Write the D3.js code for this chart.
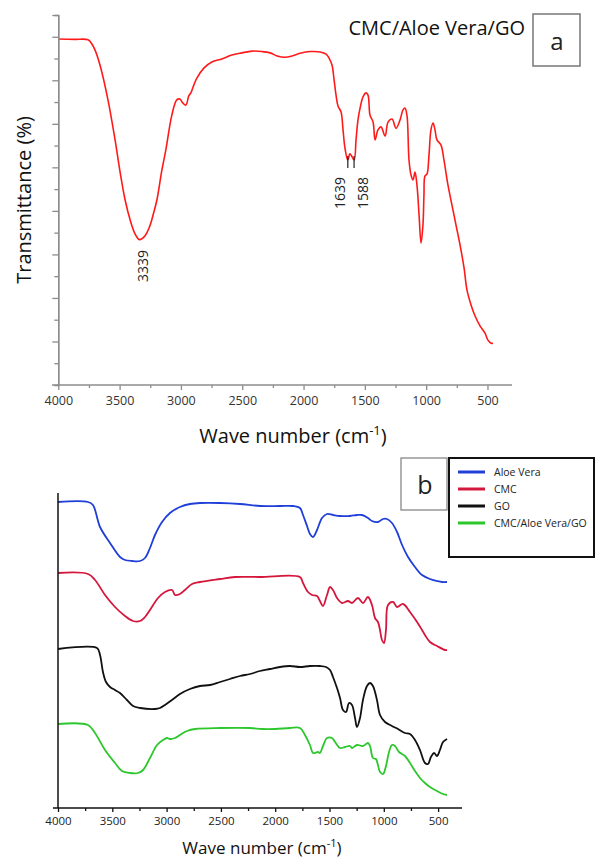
<!DOCTYPE html>
<html>
<head>
<meta charset="utf-8">
<script src="https://cdn.jsdelivr.net/npm/d3@7"></script>
<style>
  body { margin: 0; background: #fff; }
  svg { font-family: "Open Sans", sans-serif; }
</style>
</head>
<body>
<svg id="canvas" width="595" height="860"></svg>
<script>
// panel a: CMC/Aloe Vera/GO, [wavenumber, transmittance]
let compositeA = [
  [4000,79.5],[3864,79.4],[3758,79.3],[3725,78.3],[3701,77.0],[3660,73.5],[3595,65.5],[3537,56.3],
  [3496,48.9],[3455,42.5],[3414,37.9],[3374,34.7],[3339,33.4],[3295,34.2],[3254,36.5],[3221,39.7],
  [3196,42.5],[3155,49.4],[3123,54.0],[3074,62.0],[3034,65.5],[3009,65.7],[2985,64.8],[2960,64.3],
  [2936,66.4],[2919,67.1],[2895,68.9],[2870,70.5],[2813,72.8],[2748,74.2],[2666,74.9],[2585,75.8],
  [2503,76.3],[2420,76.7],[2339,76.6],[2273,76.3],[2216,75.6],[2151,75.3],[2094,75.6],[2028,76.2],
  [1946,76.6],[1864,76.5],[1816,76.0],[1792,75.1],[1768,73.5],[1751,70.1],[1735,66.6],[1719,64.1],
  [1694,62.7],[1678,58.6],[1662,54.4],[1639,51.7],[1621,53.1],[1588,51.7],[1572,56.3],[1556,60.9],
  [1539,63.6],[1515,66.2],[1490,67.1],[1474,66.6],[1458,62.0],[1433,60.4],[1417,56.3],[1393,58.6],
  [1368,59.3],[1335,57.2],[1311,60.4],[1278,61.1],[1246,59.0],[1213,60.9],[1189,63.2],[1172,63.6],
  [1156,61.8],[1140,51.7],[1123,48.2],[1107,47.1],[1091,48.9],[1075,45.9],[1058,39.1],[1042,32.6],
  [1026,36.8],[1018,43.6],[1010,48.0],[993,48.5],[977,52.8],[961,58.6],[944,60.2],[928,58.6],
  [912,56.3],[879,55.1],[855,51.7],[822,45.9],[790,41.4],[757,36.8],[724,32.2],[691,26.9],
  [667,21.8],[634,18.4],[602,15.9],[561,13.6],[520,11.9],[496,10.3],[471,9.6],[455,9.6]
];
let peakLabels = [3339, 1639, 1588];

// panel b: stacked spectra, [wavenumber, offset transmittance]
let aloeVera = [
  [4000,306],[3724,306],[3678,303],[3613,281],[3521,265],[3429,251],[3383,248],[3319,247],
  [3245,247],[3199,250],[3153,260],[3107,273],[3042,286],[2969,295],[2877,301],[2785,304],
  [2692,305],[2508,305],[2324,304],[2140,302],[1956,302],[1836,302],[1772,300],[1744,293],
  [1707,282],[1680,274],[1652,271],[1615,278],[1569,290],[1523,294],[1468,293],[1403,292],
  [1311,292],[1247,293],[1201,293],[1146,290],[1109,287],[1054,286],[1007,289],[971,289],
  [925,285],[878,276],[832,263],[777,251],[713,241],[648,233],[575,229],[510,227],[464,226],[418,226]
];
let cmc = [
  [4000,235],[3724,234],[3659,228],[3567,213],[3475,201],[3383,192],[3309,187],[3245,187],
  [3199,191],[3153,198],[3079,210],[3015,216],[2950,218],[2923,213],[2877,214],[2831,218],
  [2766,224],[2692,226],[2508,229],[2370,231],[2140,231],[1772,231],[1744,225],[1698,216],
  [1661,213],[1615,212],[1588,207],[1560,202],[1523,213],[1495,221],[1468,218],[1431,210],
  [1385,205],[1330,207],[1293,205],[1238,210],[1192,205],[1146,211],[1109,203],[1081,190],
  [1054,186],[1035,178],[1017,168],[998,165],[980,178],[961,203],[915,206],[878,201],
  [823,204],[759,196],[694,186],[648,178],[621,173],[575,166],[510,162],[436,158],[418,158]
];
let go = [
  [4000,159],[3641,160],[3613,153],[3586,136],[3558,126],[3521,121],[3475,118],[3429,115],
  [3365,108],[3309,102],[3245,100],[3107,99],[3061,100],[3015,103],[2950,108],[2877,114],
  [2785,119],[2692,122],[2600,123],[2508,126],[2416,129],[2324,132],[2232,134],[2140,137],
  [2048,139],[1956,141],[1864,142],[1772,141],[1680,142],[1588,142],[1532,141],[1495,138],
  [1468,131],[1431,120],[1403,110],[1376,98],[1348,96],[1320,105],[1293,103],[1265,90],
  [1247,81],[1219,90],[1192,108],[1155,122],[1127,125],[1100,122],[1063,108],[1035,93],
  [989,86],[925,82],[869,79],[805,75],[759,74],[713,68],[667,58],[621,45],[593,44],
  [566,51],[538,55],[510,52],[483,58],[455,66],[418,69]
];
let composite = [
  [4000,84],[3724,83],[3659,75],[3567,58],[3475,45],[3411,37],[3337,35],[3263,35],
  [3217,38],[3153,50],[3088,63],[3033,68],[2996,70],[2969,69],[2923,70],[2877,73],
  [2812,77],[2738,79],[2508,80],[2232,80],[2122,79],[2002,79],[1864,80],[1772,80],
  [1726,73],[1680,63],[1652,55],[1606,56],[1588,55],[1560,62],[1523,70],[1477,70],
  [1449,66],[1403,60],[1357,61],[1311,62],[1293,60],[1247,63],[1192,62],[1146,65],
  [1127,62],[1100,50],[1072,49],[1054,43],[1035,36],[1007,34],[980,42],[952,56],
  [925,63],[897,62],[860,56],[805,52],[759,45],[713,37],[667,30],[621,25],[575,21],
  [510,17],[455,14],[418,13]
];
let seriesNames = ['Aloe Vera', 'CMC', 'GO', 'CMC/Aloe Vera/GO'];
let seriesColors = ['#1f3fd8', '#d5173d', '#111111', '#2cc72c'];
let xTicks = [4000, 3500, 3000, 2500, 2000, 1500, 1000, 500];

let canvas = d3.select('#canvas');

// ---------- panel a ----------
let xa = d3.scaleLinear().domain([4000, 300]).range([58.3, 512]);
let ya = d3.scaleLinear().domain([0, 85]).range([385, 15]);
let ga = canvas.append('g');

let lineA = d3.line().x(d => xa(d[0])).y(d => ya(d[1])).curve(d3.curveCatmullRom.alpha(0.5));
ga.append('path').datum(compositeA)
  .attr('d', lineA).attr('fill', 'none').attr('stroke', '#ff1a1a').attr('stroke-width', 1.6);

// y axis (no labels), major + minor ticks
let yMinorA = ga.append('g').attr('transform', 'translate(58.3,0)')
  .call(d3.axisLeft(ya).tickValues(d3.range(5, 85, 10)).tickSize(4).tickFormat(''));
let yMajorA = ga.append('g').attr('transform', 'translate(58.3,0)')
  .call(d3.axisLeft(ya).tickValues(d3.range(10, 86, 10).concat([85])).tickSize(6).tickSizeOuter(0).tickFormat(''));
[yMinorA, yMajorA].forEach(g => {
  g.selectAll('line').attr('stroke', '#8c8c8c').attr('stroke-width', 1.3);
  g.select('.domain').attr('stroke', '#8c8c8c').attr('stroke-width', 1.3);
});

let xMinorA = ga.append('g').attr('transform', 'translate(0,385)')
  .call(d3.axisBottom(xa).tickValues(d3.range(3750, 300, -500)).tickSize(3).tickFormat(''));
let xMajorA = ga.append('g').attr('transform', 'translate(0,385)')
  .call(d3.axisBottom(xa).tickValues(xTicks).tickSize(5).tickSizeOuter(0).tickPadding(6).tickFormat(d3.format('d')));
[xMinorA, xMajorA].forEach(g => {
  g.selectAll('line').attr('stroke', '#8c8c8c').attr('stroke-width', 1.3);
  g.select('.domain').remove();
});
xMajorA.selectAll('text').attr('font-size', 12.5).attr('fill', '#333').attr('font-family', '"Open Sans", sans-serif');
ga.append('line').attr('x1', 52).attr('x2', xa(300)).attr('y1', 385).attr('y2', 385)
  .attr('stroke', '#8c8c8c').attr('stroke-width', 1.3);

let titleA = ga.append('text').attr('x', 293).attr('y', 443).attr('text-anchor', 'middle')
  .attr('font-size', 20).attr('fill', '#111');
titleA.append('tspan').text('Wave number (cm');
titleA.append('tspan').text('-1').attr('font-size', 13).attr('dy', -8);
titleA.append('tspan').text(')').attr('dy', 8);

ga.append('text').attr('transform', 'translate(31,200) rotate(-90)').attr('text-anchor', 'middle')
  .attr('font-size', 20).attr('fill', '#111').text('Transmittance (%)');

ga.append('text').attr('x', 525).attr('y', 35).attr('text-anchor', 'end')
  .attr('font-size', 20).attr('fill', '#111').text('CMC/Aloe Vera/GO');
ga.append('rect').attr('x', 533).attr('y', 14).attr('width', 47).attr('height', 52)
  .attr('fill', '#fff').attr('stroke', '#777').attr('stroke-width', 1.5);
ga.append('text').attr('x', 557).attr('y', 50).attr('text-anchor', 'middle')
  .attr('font-size', 24).attr('fill', '#222').text('a');

// peak labels
let labelDx = [9, -3, 14];
let labelEnd = [250, 177, 177];
peakLabels.forEach((p, i) => {
  ga.append('text')
    .attr('transform', `translate(${xa(p) + labelDx[i]},${labelEnd[i]}) rotate(-90)`)
    .attr('text-anchor', 'end').attr('font-size', 14).attr('fill', '#222').text(p);
});
[1639, 1588].forEach(p => {
  ga.append('line').attr('x1', xa(p)).attr('x2', xa(p)).attr('y1', 156).attr('y2', 168)
    .attr('stroke', '#222').attr('stroke-width', 1.2);
});

// ---------- panel b ----------
let xb = d3.scaleLinear().domain([4000, 280]).range([58, 462]);
let yb = d3.scaleLinear().domain([0, 315]).range([808, 493]);
let gb = canvas.append('g');

let lineB = d3.line().x(d => xb(d[0])).y(d => yb(d[1])).curve(d3.curveCatmullRom.alpha(0.5));
[aloeVera, cmc, go, composite].forEach((s, i) => {
  gb.append('path').datum(s).attr('d', lineB).attr('fill', 'none')
    .attr('stroke', seriesColors[i]).attr('stroke-width', 1.8);
});

gb.append('line').attr('x1', 58).attr('x2', 58).attr('y1', 493).attr('y2', 808)
  .attr('stroke', '#111').attr('stroke-width', 1.5);
let xMinorB = gb.append('g').attr('transform', 'translate(0,808)')
  .call(d3.axisBottom(xb).tickValues(d3.range(3750, 300, -500)).tickSize(3).tickFormat(''));
let xMajorB = gb.append('g').attr('transform', 'translate(0,808)')
  .call(d3.axisBottom(xb).tickValues(xTicks).tickSize(4).tickSizeOuter(0).tickPadding(5).tickFormat(d3.format('d')));
[xMinorB, xMajorB].forEach(g => {
  g.selectAll('line').attr('stroke', '#111').attr('stroke-width', 1.3);
  g.select('.domain').remove();
});
xMajorB.selectAll('text').attr('font-size', 11.5).attr('fill', '#222').attr('font-family', '"Open Sans", sans-serif');
gb.append('line').attr('x1', 53).attr('x2', xb(280)).attr('y1', 808).attr('y2', 808)
  .attr('stroke', '#111').attr('stroke-width', 1.5);

let titleB = gb.append('text').attr('x', 262).attr('y', 854).attr('text-anchor', 'middle')
  .attr('font-size', 17).attr('fill', '#111');
titleB.append('tspan').text('Wave number (cm');
titleB.append('tspan').text('-1').attr('font-size', 11).attr('dy', -7);
titleB.append('tspan').text(')').attr('dy', 7);

// label box b + legend
gb.append('rect').attr('x', 401).attr('y', 458).attr('width', 46).attr('height', 52)
  .attr('fill', '#fff').attr('stroke', '#888').attr('stroke-width', 1.3);
gb.append('text').attr('x', 425).attr('y', 494).attr('text-anchor', 'middle')
  .attr('font-size', 25).attr('fill', '#222').text('b');

gb.append('rect').attr('x', 449).attr('y', 458).attr('width', 145).attr('height', 99)
  .attr('fill', '#fff').attr('stroke', '#111').attr('stroke-width', 2);
seriesNames.forEach((name, i) => {
  let yy = 472 + i * 17;
  gb.append('line').attr('x1', 458).attr('x2', 485).attr('y1', yy).attr('y2', yy)
    .attr('stroke', seriesColors[i]).attr('stroke-width', 3);
  gb.append('text').attr('x', 494).attr('y', yy + 3.8).attr('font-size', 10.5)
    .attr('fill', '#222').text(name);
});
</script>
</body>
</html>
